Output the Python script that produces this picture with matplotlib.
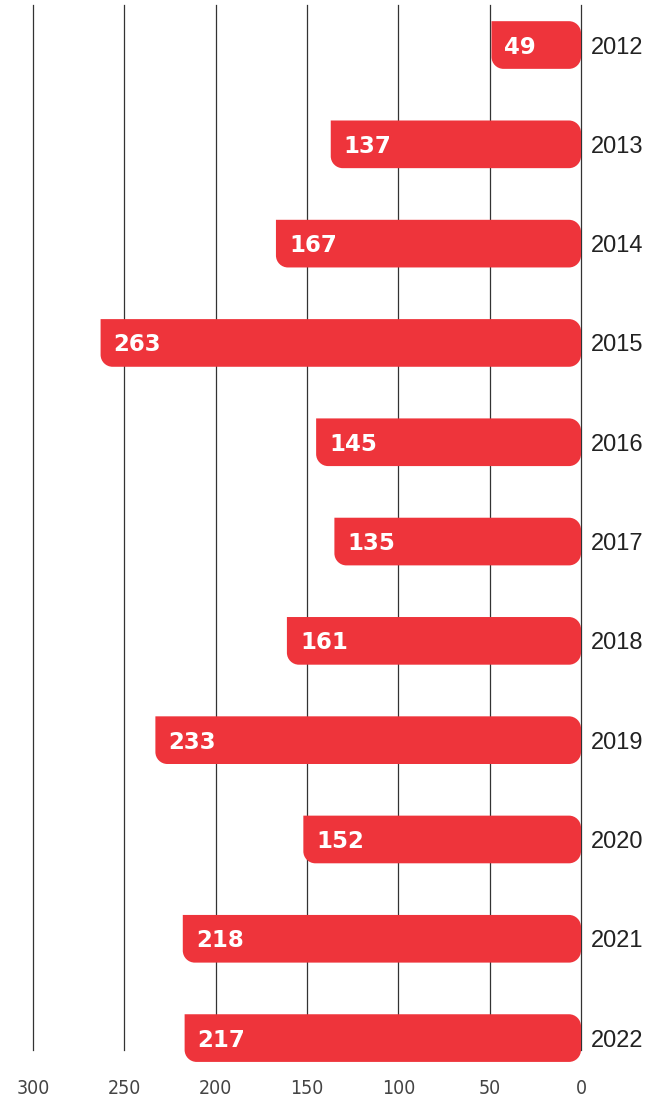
import matplotlib.pyplot as plt
from matplotlib.path import Path
from matplotlib.patches import PathPatch

years = ['2012', '2013', '2014', '2015', '2016', '2017', '2018', '2019', '2020', '2021', '2022']
values = [49, 137, 167, 263, 145, 135, 161, 233, 152, 218, 217]
xticks = [300, 250, 200, 150, 100, 50, 0]

bar_color = '#ee343b'
bar_h = 0.48

fig = plt.figure(figsize=(6.57, 11.06), dpi=100)
ax = fig.add_axes([33 / 657, 56 / 1106, 548 / 657, 1045 / 1106])
ax.set_xlim(300, 0)
ax.set_ylim(10.12, -0.403)

# corner radius in data units (about 12 px)
px_x = 548 / 300
px_y = 1045 / (10.12 + 0.403)
rx = 12 / px_x
ry = 12 / px_y
k = 0.5523

for i, v in enumerate(values):
    t = i - bar_h / 2
    b = i + bar_h / 2
    verts = [
        (v, t),
        (rx, t),
        (rx * (1 - k), t), (0, t + ry * (1 - k)), (0, t + ry),
        (0, b - ry),
        (0, b - ry * (1 - k)), (rx * (1 - k), b), (rx, b),
        (v - rx, b),
        (v - rx * (1 - k), b), (v, b - ry * (1 - k)), (v, b - ry),
        (v, t),
    ]
    codes = [Path.MOVETO, Path.LINETO,
             Path.CURVE4, Path.CURVE4, Path.CURVE4,
             Path.LINETO,
             Path.CURVE4, Path.CURVE4, Path.CURVE4,
             Path.LINETO,
             Path.CURVE4, Path.CURVE4, Path.CURVE4,
             Path.CLOSEPOLY]
    ax.add_patch(PathPatch(Path(verts, codes), facecolor=bar_color, edgecolor='none',
                           zorder=2, clip_on=False))
    ax.text(v - 13 / px_x, i + 0.02, str(v), color='white', fontsize=16.5, fontweight='bold',
            family='DejaVu Sans', va='center', ha='left', zorder=3)

for x in xticks:
    ax.axvline(x, color='#333333', lw=0.9, zorder=1, clip_on=False)

for s in ax.spines.values():
    s.set_visible(False)

ax.set_xticks(xticks)
ax.set_xticklabels([str(x) for x in xticks], fontsize=14, color='#444444', family='DejaVu Sans',
                   fontstretch='condensed')
ax.tick_params(axis='x', length=0, pad=21)

ax.yaxis.tick_right()
ax.set_yticks(range(len(years)))
ax.set_yticklabels(years, fontsize=17, color='#222222', family='Liberation Sans')
ax.tick_params(axis='y', length=0, pad=7)

fig.savefig('out.png', dpi=100)
